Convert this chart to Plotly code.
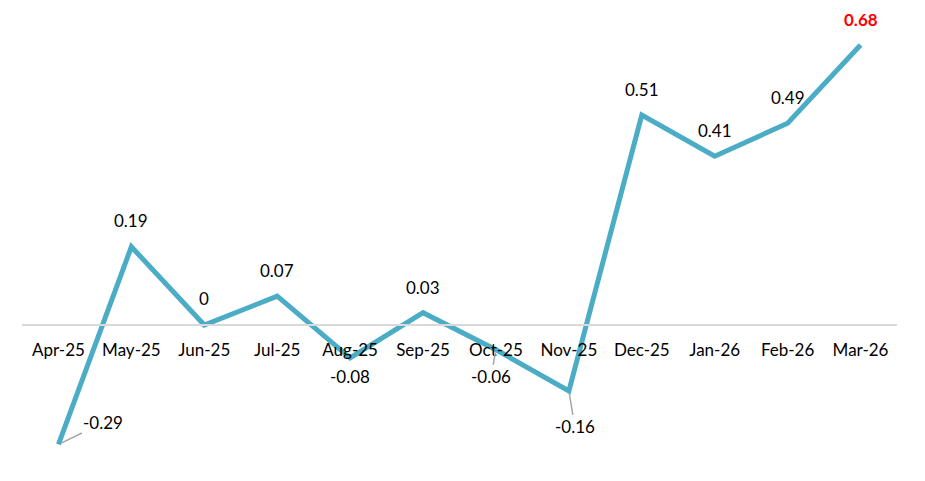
import plotly.graph_objects as go

months = ["Apr-25", "May-25", "Jun-25", "Jul-25", "Aug-25", "Sep-25",
          "Oct-25", "Nov-25", "Dec-25", "Jan-26", "Feb-26", "Mar-26"]
values = [-0.29, 0.19, 0, 0.07, -0.08, 0.03, -0.06, -0.16, 0.51, 0.41, 0.49, 0.68]
labels = ["-0.29", "0.19", "0", "0.07", "-0.08", "0.03",
          "-0.06", "-0.16", "0.51", "0.41", "0.49", "0.68"]

LINE_COLOR = "#4BACC6"
FONT = "Lato"
FS = 17

fig = go.Figure()
fig.add_trace(go.Scatter(
    x=months, y=values, mode="lines",
    line=dict(color=LINE_COLOR, width=5),
    hoverinfo="x+y", showlegend=False,
))

# label offsets (px) relative to the point, and whether a leader line is drawn
offsets = [(45, -22, True), (0, -26, False), (0, -27, False), (0, -26, False),
           (0, 19, False), (0, -25, False), (-5, 27, True), (6, 36, True),
           (0, -26, False), (0, -26, False), (0, -26, False), (0, -26, False)]

for m, v, t, (ax, ay, arrow) in zip(months, values, labels, offsets):
    last = m == months[-1]
    fig.add_annotation(
        x=m, y=v, text=f"<b>{t}</b>" if last else t,
        showarrow=arrow, ax=ax, ay=ay, axref="pixel", ayref="pixel",
        xshift=0 if arrow else ax, yshift=0 if arrow else -ay,
        arrowhead=0, arrowwidth=1.5, arrowcolor="#a6a6a6", standoff=3,
        font=dict(family=FONT, size=FS, color="red" if last else "#000000"),
    )

# page body has an 8px margin, so the figure is sized to fit the window
fig.update_layout(
    width=917, height=473,
    margin=dict(l=14, r=28, t=2, b=11),
    paper_bgcolor="white", plot_bgcolor="white",
    font=dict(family=FONT, size=FS, color="#000000"),
)
fig.update_xaxes(
    type="category", range=[-0.5, 11.5],
    anchor="free", position=(470 - 325) / 460,
    showline=True, linecolor="#d9d9d9", linewidth=1.5,
    showgrid=False, ticks="", ticklabelstandoff=10,
    tickfont=dict(family=FONT, size=FS, color="#000000"),
)
fig.update_yaxes(
    range=[-0.352, 0.765], visible=False, showgrid=False, zeroline=False,
)

fig.write_html("out.html")
